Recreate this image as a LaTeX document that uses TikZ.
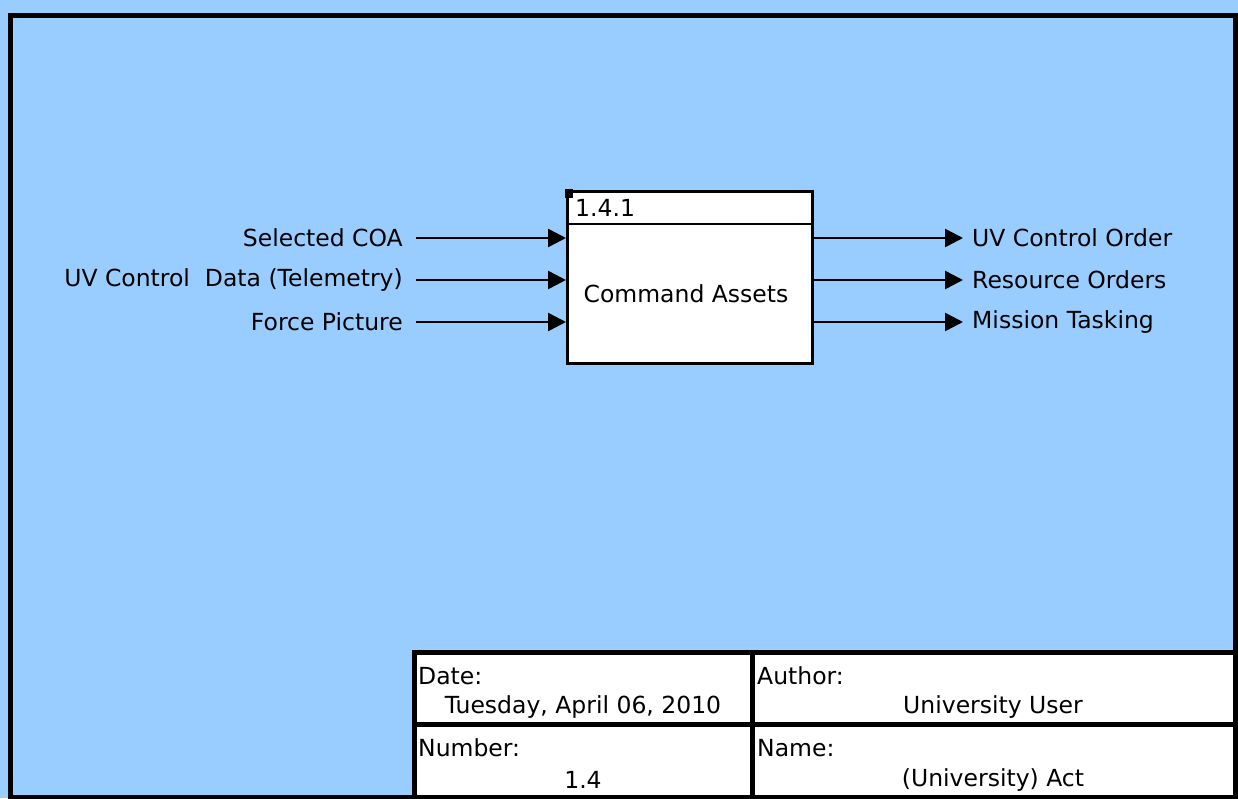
\documentclass[tikz,border=0pt]{standalone}
\usepackage{fontspec}
\setmainfont{DejaVu Sans}
\usetikzlibrary{arrows.meta}
\definecolor{bgblue}{HTML}{99CCFF}
\tikzset{
  flow/.style={line width=2.5pt,-{Triangle[length=18pt,width=18pt]}},
  lbl/.style={inner sep=0pt,font=\fontsize{23.5}{28}\selectfont},
  frame/.style={line width=5pt},
}
\begin{document}
\begin{tikzpicture}[x=1pt,y=-1pt]
\fill[bgblue] (0,0) rectangle (1238,798);
\useasboundingbox (0,0) rectangle (1238,798);
% outer frame
\draw[frame] (10,15) rectangle (1235,797);
% activity box
\node[draw,fill=white,line width=2.5pt,minimum width=245pt,minimum height=172pt,inner sep=0pt,anchor=north west] (box) at (566,190) {};
\draw[line width=2.5pt] (566,224) -- (811,224);
\fill (565,189) rectangle (573,198);
\node[lbl,anchor=west] (num) at (575,208) {1.4.1};
\node[lbl] (title) at (686,294) {Command Assets};
% inputs
\foreach \y/\t/\n in {238/Selected COA/i1, 280/{UV Control\ \ Data (Telemetry)}/i2, 322/Force Picture/i3}{
  \node[lbl,anchor=east] (\n) at (403,\y) {\t};
  \coordinate (\n s) at (416,\y);
  \draw[flow] (\n s) -- (box.west |- \n s);
}
% outputs
\foreach \y/\t/\n in {238/UV Control Order/o1, 280/Resource Orders/o2, 322/Mission Tasking/o3}{
  \coordinate (\n e) at (963,\y);
  \draw[flow] (box.east |- \n e) -- (\n e);
  \node[lbl,anchor=west] (\n) at (972,\y) {\t};
}
% title block
\draw[frame,fill=white] (414,652) rectangle (1235,797);
\draw[frame] (752,652) -- (752,797);
\draw[frame] (414,724) -- (1235,724);
\node[lbl,anchor=west] (dl) at (418,676) {Date:};
\node[lbl] (dv) at (583,707) {Tuesday, April 06, 2010};
\node[lbl,anchor=west] (al) at (757,676) {Author:};
\node[lbl] (av) at (993,707) {University User};
\node[lbl,anchor=west] (nl) at (418,748) {Number:};
\node[lbl] (nv) at (583,780) {1.4};
\node[lbl,anchor=west] (ml) at (757,748) {Name:};
\node[lbl] (mv) at (993,780) {(University) Act};
\end{tikzpicture}
\end{document}
